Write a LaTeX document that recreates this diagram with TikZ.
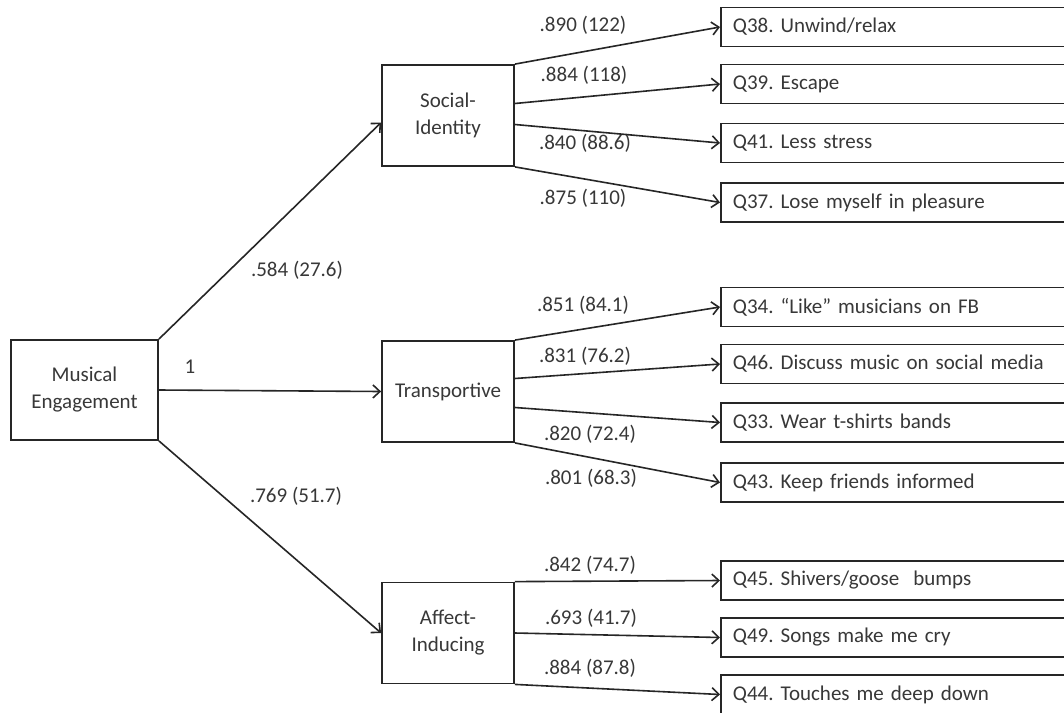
\documentclass[tikz,border=0pt]{standalone}
\usepackage{fontspec}
\setmainfont{Carlito}
\frenchspacing
\usetikzlibrary{arrows.meta}
\begin{document}
\begin{tikzpicture}[x=1pt,y=-1pt,
                box/.style={rectangle,draw=black!85,line width=1.8pt,fill=white,
                text=black!78,align=center,inner sep=0pt,
                font=\fontsize{21}{27}\selectfont},
                item/.style={rectangle,draw=black!85,line width=1.8pt,anchor=west,
                text=black!78,text width=356pt,align=left,inner xsep=12pt,
                inner ysep=0pt,minimum height=39pt,font=\fontsize{21}{25}\selectfont},
                num/.style={text=black!78,font=\fontsize{21}{25}\selectfont},
                load/.style={draw=black!85,line width=1.6pt,
                -{Straight Barb[length=7pt,width=13pt]}}]
                \clip (0,0) rectangle (1064,712);
                \fill[white] (0,0) rectangle (1064,712);
                % latent factors
                \node (me) at (84.5,390) [box,minimum width=147pt,minimum height=100pt] {Musical\\Engagement};
                \node (si) at (448,115.5) [box,minimum width=132pt,minimum height=101pt] {Social-\\Identity};
                \node (tr) at (448,391.5) [box,minimum width=132pt,minimum height=101pt] {Transportive};
                \node (ai) at (448,633) [box,minimum width=132pt,minimum height=101pt] {Affect-\\Inducing};
                % items
                \node (q38) at (720,27) [item] {Q38. Unwind/relax};
                \node (q39) at (720,84) [item] {Q39. Escape};
                \node (q41) at (720,143) [item] {Q41. Less stress};
                \node (q37) at (720,202.5) [item] {Q37. Lose myself in pleasure};
                \node (q34) at (720,307) [item] {Q34. ``Like'' musicians on FB};
                \node (q46) at (720,364) [item] {Q46. Discuss music on social media};
                \node (q33) at (720,422.5) [item] {Q33. Wear t-shirts bands};
                \node (q43) at (720,482.5) [item] {Q43. Keep friends informed};
                \node (q45) at (720,580.5) [item] {Q45. Shivers/goose\ \ bumps};
                \node (q49) at (720,637.5) [item] {Q49. Songs make me cry};
                \node (q44) at (720,694.5) [item] {Q44. Touches me deep down};
                % loadings
                \node (l1) at (297,270) [num] {.584 (27.6)};
                \node (l2) at (190,367) [num] {1};
                \node (l3) at (296,496) [num] {.769 (51.7)};
                \node (l4) at (583,25) [num] {.890 (122)};
                \node (l5) at (584,75) [num] {.884 (118)};
                \node (l6) at (585,143) [num] {.840 (88.6)};
                \node (l7) at (583,198) [num] {.875 (110)};
                \node (l8) at (583,305) [num] {.851 (84.1)};
                \node (l9) at (585,356) [num] {.831 (76.2)};
                \node (l10) at (590,434) [num] {.820 (72.4)};
                \node (l11) at (591,478) [num] {.801 (68.3)};
                \node (l12) at (590,565) [num] {.842 (74.7)};
                \node (l13) at (591,618) [num] {.693 (41.7)};
                \node (l14) at (590,668) [num] {.884 (87.8)};
                \draw (me.north east) edge[load] ([yshift=-7pt]si.west);
                \draw (me.east) edge[load] (tr.west);
                \draw (me.south east) edge[load] (ai.west);
                \draw (si.north east) edge[load] (q38.west);
                \draw ([yshift=12pt]si.east) edge[load] (q39.west);
                \draw ([yshift=-9pt]si.east) edge[load] (q41.west);
                \draw (si.south east) edge[load] (q37.west);
                \draw (tr.north east) edge[load] (q34.west);
                \draw ([yshift=13pt]tr.east) edge[load] (q46.west);
                \draw ([yshift=-16pt]tr.east) edge[load] (q33.west);
                \draw (tr.south east) edge[load] (q43.west);
                \draw (ai.north east) edge[load] (q45.west);
                \draw (ai.east) edge[load] (q49.west);
                \draw (ai.south east) edge[load] (q44.west);
            \end{tikzpicture}
\end{document}
